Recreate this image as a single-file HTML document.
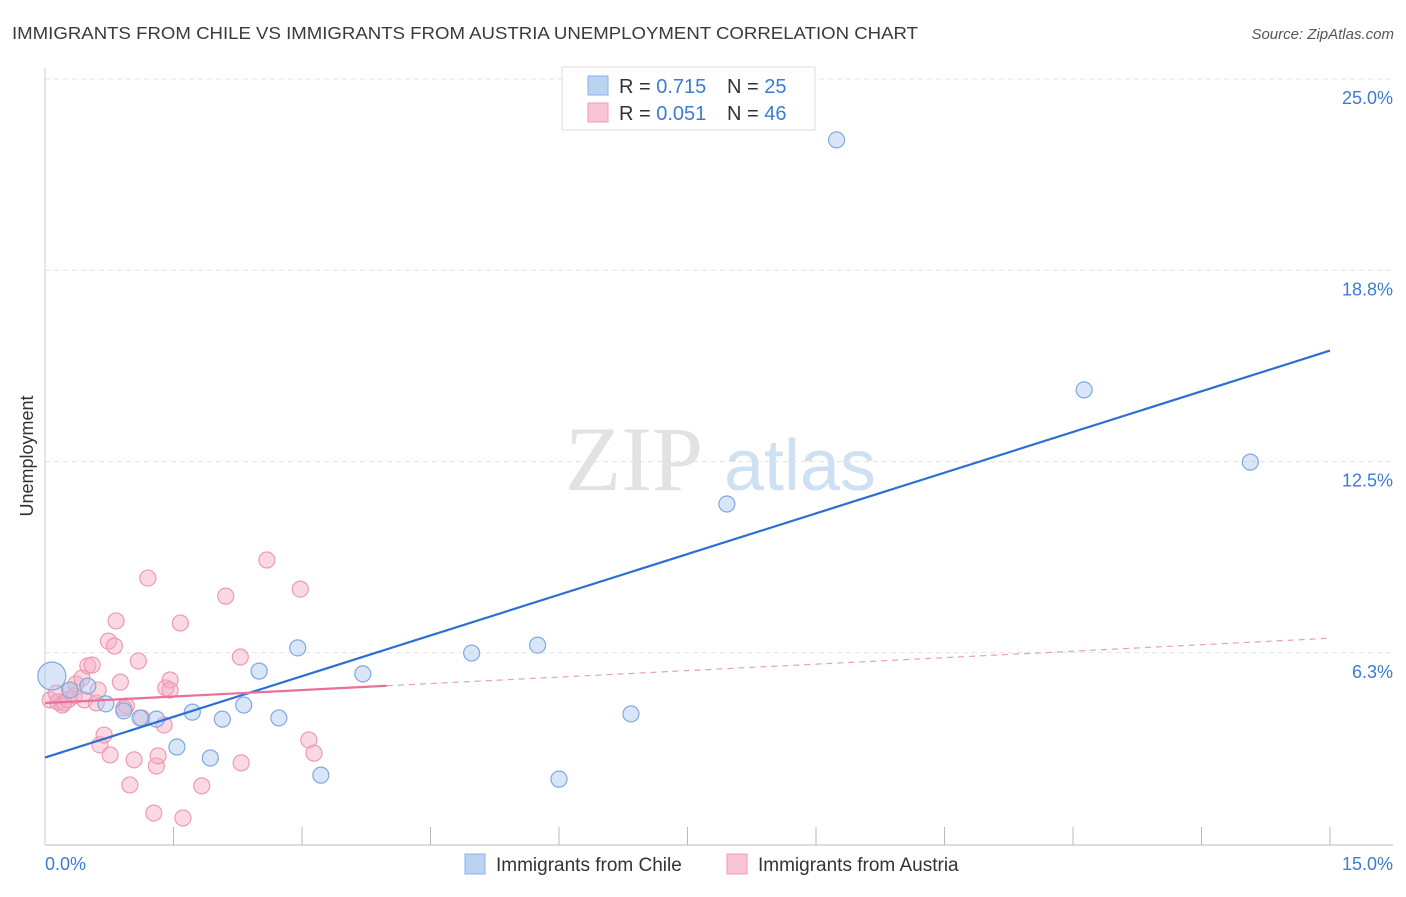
<!DOCTYPE html>
<html><head><meta charset="utf-8">
<style>
html,body{margin:0;padding:0;background:#fff;}
body{width:1406px;height:892px;overflow:hidden;font-family:"Liberation Sans",sans-serif;}
</style></head>
<body>
<svg id="chart" width="1406" height="892" viewBox="0 0 1406 892" xmlns="http://www.w3.org/2000/svg">
<text x="12" y="39" font-size="17.5" fill="#3a3a3a" textLength="906" lengthAdjust="spacingAndGlyphs">IMMIGRANTS FROM CHILE VS IMMIGRANTS FROM AUSTRIA UNEMPLOYMENT CORRELATION CHART</text>
<text x="1394" y="39" font-size="15" fill="#555" font-style="italic" text-anchor="end">Source: ZipAtlas.com</text>
<g>
<text x="634" y="490" font-size="92" fill="#e2e2e2" font-family="Liberation Serif,serif" text-anchor="middle">ZIP</text>
<text x="800" y="490" font-size="72" fill="#cfe0f2" text-anchor="middle">atlas</text>
</g>
<text transform="translate(33,456) rotate(-90)" font-size="18" fill="#333" text-anchor="middle">Unemployment</text>
<g id="grid"></g>
<g id="axes"></g>
<g id="marks"></g>
<g>
<rect x="562" y="67" width="253" height="63" fill="#fff" stroke="#ddd"/>
<rect x="588" y="76" width="20" height="19" fill="#b9d3f3" stroke="#8bb3e6"/>
<rect x="588" y="103" width="20" height="19" fill="#f9c4d4" stroke="#f09ab5"/>
<text x="619" y="93" font-size="20" fill="#333">R = <tspan fill="#3d7bd6">0.715</tspan></text>
<text x="727" y="93" font-size="20" fill="#333">N = <tspan fill="#3d7bd6">25</tspan></text>
<text x="619" y="120" font-size="20" fill="#333">R = <tspan fill="#3d7bd6">0.051</tspan></text>
<text x="727" y="120" font-size="20" fill="#333">N = <tspan fill="#3d7bd6">46</tspan></text>
</g>
<g>
<rect x="465" y="854" width="20" height="20" fill="#b9d3f3" stroke="#8bb3e6"/>
<text x="496" y="871" font-size="19" fill="#333">Immigrants from Chile</text>
<rect x="727" y="854" width="20" height="20" fill="#f9c4d4" stroke="#f09ab5"/>
<text x="758" y="871" font-size="19" fill="#333">Immigrants from Austria</text>
</g>
</svg>
<script>
const yTicks=[6.25,12.5,18.75,25];
const yTickLabels=["6.3%","12.5%","18.8%","25.0%"];
const xTickCount=10;
const xLabels=["0.0%","15.0%"];
const chileX=[0.08,0.29,0.50,0.71,0.92,1.11,1.30,1.54,1.72,1.93,2.07,2.32,2.50,2.73,2.95,3.22,3.71,4.98,5.75,6.00,6.84,7.96,9.24,12.13,14.07];
const chileY=[5.49,5.03,5.16,4.58,4.35,4.12,4.08,3.17,4.31,2.81,4.08,4.54,5.65,4.12,6.41,2.25,5.56,6.24,6.50,2.12,4.25,11.11,23.01,14.84,12.48];
const austriaX=[0.06,0.13,0.15,0.20,0.22,0.27,0.29,0.34,0.36,0.43,0.46,0.50,0.55,0.60,0.64,0.69,0.74,0.76,0.81,0.83,0.88,0.95,0.99,1.04,1.09,1.13,1.20,1.27,1.30,1.32,1.39,1.41,1.46,1.58,1.61,1.83,2.11,2.28,2.29,2.59,2.98,3.08,3.14,0.62,0.92,1.46];
const austriaY=[4.71,4.93,4.64,4.54,4.61,4.71,5.03,4.84,5.23,5.42,4.71,5.82,5.85,4.61,3.24,3.56,6.63,2.91,6.47,7.29,5.29,4.51,1.93,2.75,5.98,4.12,8.69,1.01,2.55,2.88,3.89,5.10,5.36,7.22,0.85,1.90,8.10,6.11,2.65,9.28,8.33,3.40,2.97,5.03,4.44,5.03];

const NS="http://www.w3.org/2000/svg";
const X0=45,X1=1330,Y0=844,YPER=30.6;
const sx=v=>X0+(X1-X0)*v/15;
const sy=v=>Y0-v*YPER;
function mk(tag,attrs,parent){const e=document.createElementNS(NS,tag);for(const k in attrs)e.setAttribute(k,attrs[k]);parent.appendChild(e);return e;}
const grid=document.getElementById('grid'),axes=document.getElementById('axes'),marks=document.getElementById('marks');

yTicks.forEach((t,i)=>{
  const l=mk('line',{x1:45,x2:1393,y1:sy(t),y2:sy(t),stroke:'#e3e3e3','stroke-dasharray':'5,4'},grid);
  
  
  const tx=mk('text',{x:1393,y:sy(t)+25,'font-size':18,fill:'#3d7bd6','text-anchor':'end'},axes);
  tx.textContent=yTickLabels[i];
  
  
});
const xa=mk('line',{x1:45,x2:1393,y1:845,y2:845,stroke:'#bbb'},axes);


const ya=mk('line',{x1:45,x2:45,y1:68,y2:845,stroke:'#ccc'},axes);


for(let i=1;i<=xTickCount;i++){
  const x=sx(15*i/xTickCount);
  const t=mk('line',{x1:x,x2:x,y1:827,y2:845,stroke:'#bbb'},axes);
  
  
}
const xl0=mk('text',{x:45,y:870,'font-size':18,fill:'#3d7bd6'},axes);xl0.textContent=xLabels[0];


const xl1=mk('text',{x:1393,y:870,'font-size':18,fill:'#3d7bd6','text-anchor':'end'},axes);xl1.textContent=xLabels[1];



function fit(xs,ys){const n=xs.length;let mx=0,my=0;for(let i=0;i<n;i++){mx+=xs[i];my+=ys[i];}mx/=n;my/=n;let a=0,b=0;for(let i=0;i<n;i++){a+=(xs[i]-mx)*(ys[i]-my);b+=(xs[i]-mx)**2;}const s=a/b;return [s,my-s*mx];}

austriaX.forEach((x,i)=>{
  const c=mk('circle',{cx:sx(x),cy:sy(austriaY[i]),r:8,fill:'rgba(246,170,194,0.45)',stroke:'#ee9ab4','stroke-width':1.2},marks);
  
  
});
chileX.forEach((x,i)=>{
  const r=i===0?14:8;
  const c=mk('circle',{cx:sx(x),cy:sy(chileY[i]),r:r,fill:'rgba(170,200,240,0.45)',stroke:'#7fa9e0','stroke-width':1.2},marks);
  
  
});
const [sb,ib]=fit(chileX,chileY);
const bl=mk('line',{x1:sx(0),y1:sy(ib),x2:sx(15),y2:sy(ib+sb*15),stroke:'#2b6fd6','stroke-width':2.2},marks);


const [sp,ip]=fit(austriaX,austriaY);
const xe=Math.max(...austriaX)+0.85;
const pl=mk('line',{x1:sx(0),y1:sy(ip),x2:sx(xe),y2:sy(ip+sp*xe),stroke:'#e8709a','stroke-width':2.2},marks);


const pd=mk('line',{x1:sx(xe),y1:sy(ip+sp*xe),x2:sx(15),y2:sy(ip+sp*15),stroke:'#e8a0b8','stroke-width':1.2,'stroke-dasharray':'6,5'},marks);


</script>
</body></html>
